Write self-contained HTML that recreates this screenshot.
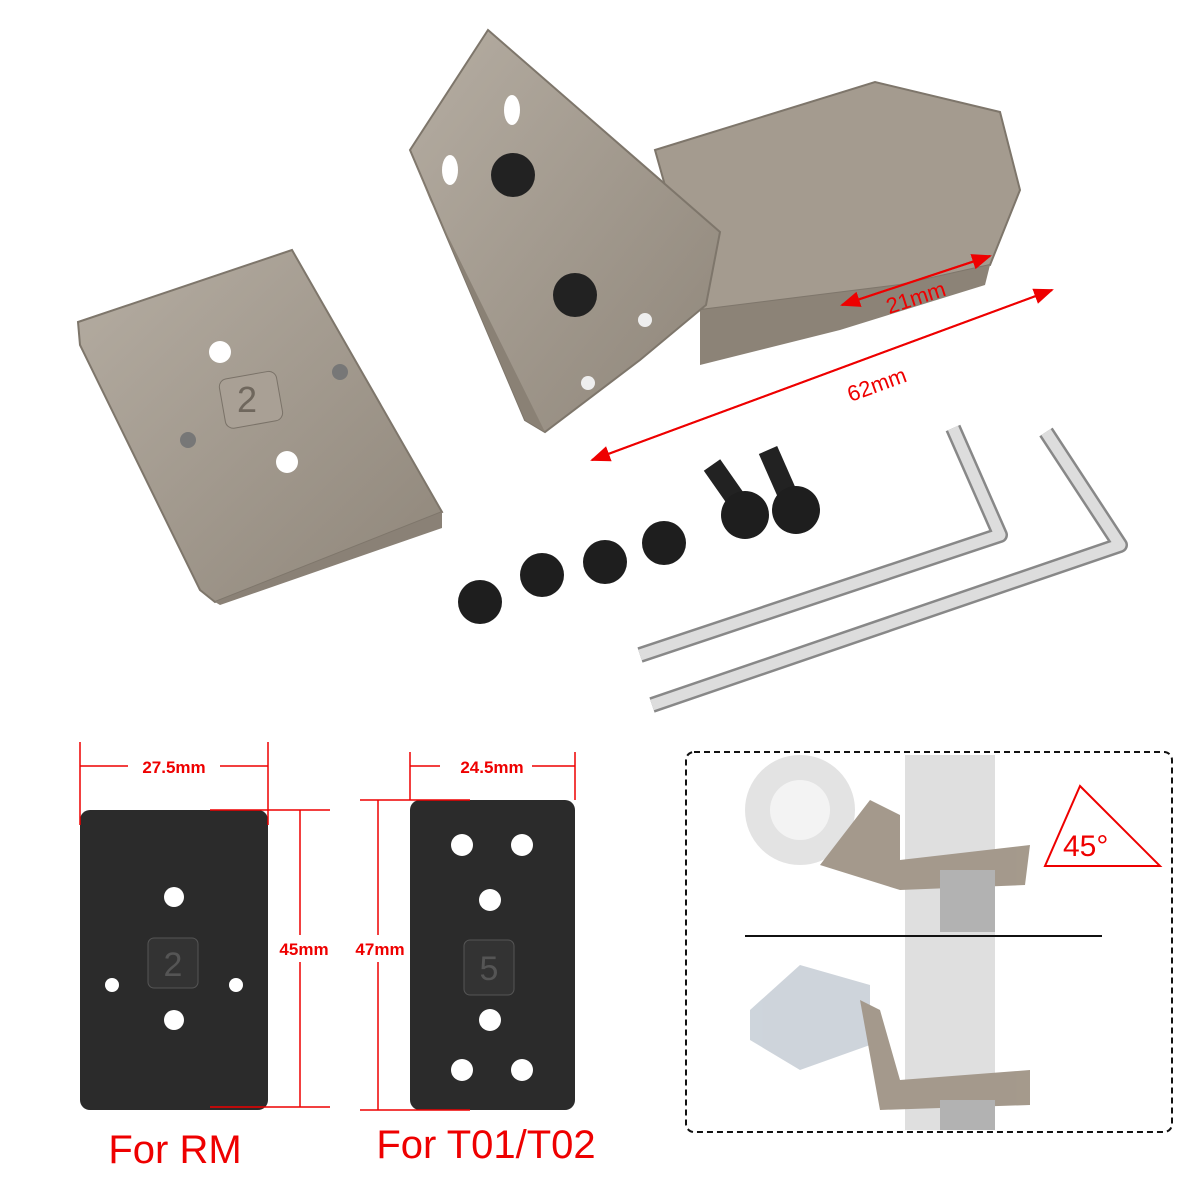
<!DOCTYPE html>
<html><head><meta charset="utf-8"><style>
html,body{margin:0;padding:0;background:#fff;}
svg{display:block;}
text{font-family:"Liberation Sans",sans-serif;}
</style></head><body>
<svg width="1200" height="1200" viewBox="0 0 1200 1200" xmlns="http://www.w3.org/2000/svg">
<defs>
<linearGradient id="tan" x1="0" y1="0" x2="1" y2="1">
<stop offset="0" stop-color="#b5ada2"/><stop offset="1" stop-color="#8f867a"/></linearGradient>
<marker id="ah" markerWidth="10" markerHeight="10" refX="9" refY="5" orient="auto"><path d="M0,1 L10,5 L0,9 z" fill="#e00"/></marker>
</defs>
<!-- adapter plate -->
<polygon points="78,322 292,250 442,512 215,602 200,590 80,345" fill="url(#tan)" stroke="#7e766b" stroke-width="2"/>
<polygon points="215,602 442,512 442,528 220,605" fill="#8a8176"/>
<circle cx="220" cy="352" r="11" fill="#fff"/>
<circle cx="287" cy="462" r="11" fill="#fff"/>
<circle cx="188" cy="440" r="8" fill="#777"/>
<circle cx="340" cy="372" r="8" fill="#777"/>
<rect x="222" y="375" width="58" height="50" rx="8" fill="#a9a095" stroke="#7a7268" transform="rotate(-10 250 400)"/>
<text x="247" y="412" font-size="36" fill="#6f675d" text-anchor="middle">2</text>
<!-- mount -->
<polygon points="655,150 875,82 1000,112 1020,190 990,265 900,285 780,300 700,310" fill="#a49b8f" stroke="#7e766b" stroke-width="2"/>
<polygon points="700,310 780,300 900,285 990,265 985,285 840,330 700,365" fill="#8c8377"/>
<polygon points="410,150 488,30 720,232 706,305 640,360 545,432 525,420" fill="url(#tan)" stroke="#7e766b" stroke-width="2"/>
<polygon points="410,150 525,420 545,432 430,200" fill="#8a8175"/>
<circle cx="513" cy="175" r="22" fill="#222"/>
<circle cx="575" cy="295" r="22" fill="#222"/>
<ellipse cx="512" cy="110" rx="8" ry="15" fill="#fff"/>
<ellipse cx="450" cy="170" rx="8" ry="15" fill="#fff"/>
<circle cx="645" cy="320" r="7" fill="#eee"/>
<circle cx="588" cy="383" r="7" fill="#eee"/>
<!-- arrows -->
<line x1="592" y1="460" x2="1052" y2="290" stroke="#e00" stroke-width="2" marker-end="url(#ah)"/>
<line x1="1052" y1="290" x2="592" y2="460" stroke="#e00" stroke-width="2" marker-end="url(#ah)"/>
<line x1="842" y1="305" x2="990" y2="256" stroke="#e00" stroke-width="2" marker-end="url(#ah)"/>
<line x1="990" y1="256" x2="842" y2="305" stroke="#e00" stroke-width="2" marker-end="url(#ah)"/>
<text x="916" y="305" font-size="22" fill="#e00" text-anchor="middle" transform="rotate(-18 916 298)">21mm</text>
<text x="877" y="392" font-size="22" fill="#e00" text-anchor="middle" transform="rotate(-20 877 385)">62mm</text>
<!-- hex keys -->
<polyline points="640,655 1000,535 953,428" fill="none" stroke="#888" stroke-width="16" stroke-linejoin="round"/>
<polyline points="640,655 1000,535 953,428" fill="none" stroke="#ddd" stroke-width="11" stroke-linejoin="round"/>
<polyline points="652,705 1120,545 1046,432" fill="none" stroke="#888" stroke-width="16" stroke-linejoin="round"/>
<polyline points="652,705 1120,545 1046,432" fill="none" stroke="#ddd" stroke-width="11" stroke-linejoin="round"/>
<!-- screws -->
<line x1="712" y1="465" x2="740" y2="505" stroke="#222" stroke-width="20"/>
<line x1="768" y1="450" x2="790" y2="500" stroke="#222" stroke-width="20"/>
<circle cx="745" cy="515" r="24" fill="#1e1e1e"/>
<circle cx="796" cy="510" r="24" fill="#1e1e1e"/>
<circle cx="480" cy="602" r="22" fill="#1e1e1e"/>
<circle cx="542" cy="575" r="22" fill="#1e1e1e"/>
<circle cx="605" cy="562" r="22" fill="#1e1e1e"/>
<circle cx="664" cy="543" r="22" fill="#1e1e1e"/>
<!-- black plate RM -->
<rect x="80" y="810" width="188" height="300" rx="10" fill="#2b2b2b"/>
<circle cx="174" cy="897" r="10" fill="#fff"/><circle cx="174" cy="1020" r="10" fill="#fff"/>
<circle cx="112" cy="985" r="7" fill="#fff"/><circle cx="236" cy="985" r="7" fill="#fff"/>
<rect x="148" y="938" width="50" height="50" rx="6" fill="#333" stroke="#555"/>
<text x="173" y="976" font-size="34" fill="#555" text-anchor="middle">2</text>
<!-- black plate T01 -->
<rect x="410" y="800" width="165" height="310" rx="10" fill="#2b2b2b"/>
<circle cx="462" cy="845" r="11" fill="#fff"/><circle cx="522" cy="845" r="11" fill="#fff"/>
<circle cx="490" cy="900" r="11" fill="#fff"/><circle cx="490" cy="1020" r="11" fill="#fff"/>
<circle cx="462" cy="1070" r="11" fill="#fff"/><circle cx="522" cy="1070" r="11" fill="#fff"/>
<rect x="464" y="940" width="50" height="55" rx="6" fill="#333" stroke="#555"/>
<text x="489" y="980" font-size="34" fill="#555" text-anchor="middle">5</text>
<!-- dimensions -->
<g stroke="#e00" stroke-width="1.5" fill="none">
<line x1="80" y1="742" x2="80" y2="825"/><line x1="268" y1="742" x2="268" y2="825"/>
<line x1="80" y1="766" x2="128" y2="766"/><line x1="220" y1="766" x2="268" y2="766"/>
<line x1="410" y1="752" x2="410" y2="800"/><line x1="575" y1="752" x2="575" y2="800"/>
<line x1="410" y1="766" x2="440" y2="766"/><line x1="532" y1="766" x2="575" y2="766"/>
<line x1="210" y1="810" x2="330" y2="810"/><line x1="210" y1="1107" x2="330" y2="1107"/>
<line x1="300" y1="810" x2="300" y2="935"/><line x1="300" y1="962" x2="300" y2="1107"/>
<line x1="360" y1="800" x2="470" y2="800"/><line x1="360" y1="1110" x2="470" y2="1110"/>
<line x1="378" y1="800" x2="378" y2="935"/><line x1="378" y1="962" x2="378" y2="1110"/>
</g>
<text x="174" y="773" font-size="17" fill="#e00" text-anchor="middle" font-weight="bold">27.5mm</text>
<text x="492" y="773" font-size="17" fill="#e00" text-anchor="middle" font-weight="bold">24.5mm</text>
<text x="304" y="955" font-size="17" fill="#e00" text-anchor="middle" font-weight="bold">45mm</text>
<text x="380" y="955" font-size="17" fill="#e00" text-anchor="middle" font-weight="bold">47mm</text>
<text x="175" y="1163" font-size="40" fill="#e00" text-anchor="middle">For RM</text>
<text x="486" y="1158" font-size="40" fill="#e00" text-anchor="middle">For T01/T02</text>
<!-- dashed box -->
<rect x="686" y="752" width="486" height="380" rx="8" fill="none" stroke="#111" stroke-width="2" stroke-dasharray="6,4"/>
<g opacity="0.9">
<rect x="905" y="755" width="90" height="375" fill="#dcdcdc"/>
<circle cx="800" cy="810" r="55" fill="#e0e0e0"/>
<circle cx="800" cy="810" r="30" fill="#f2f2f2"/>
<polygon points="820,865 870,800 900,815 900,860 1030,845 1025,885 900,890" fill="#9b8f80"/>
<rect x="940" y="870" width="55" height="62" fill="#aaa"/>
<polygon points="750,1010 800,965 870,985 870,1045 800,1070 750,1040" fill="#c9d0d8"/>
<polygon points="860,1000 880,1010 900,1080 1030,1070 1030,1105 880,1110" fill="#9b8f80"/>
<rect x="940" y="1100" width="55" height="30" fill="#aaa"/>
</g>
<line x1="745" y1="936" x2="1102" y2="936" stroke="#111" stroke-width="2"/>
<polygon points="1080,786 1160,866 1045,866" fill="none" stroke="#e00" stroke-width="2"/>
<text x="1063" y="856" font-size="30" fill="#e00">45°</text>
</svg>
</body></html>
